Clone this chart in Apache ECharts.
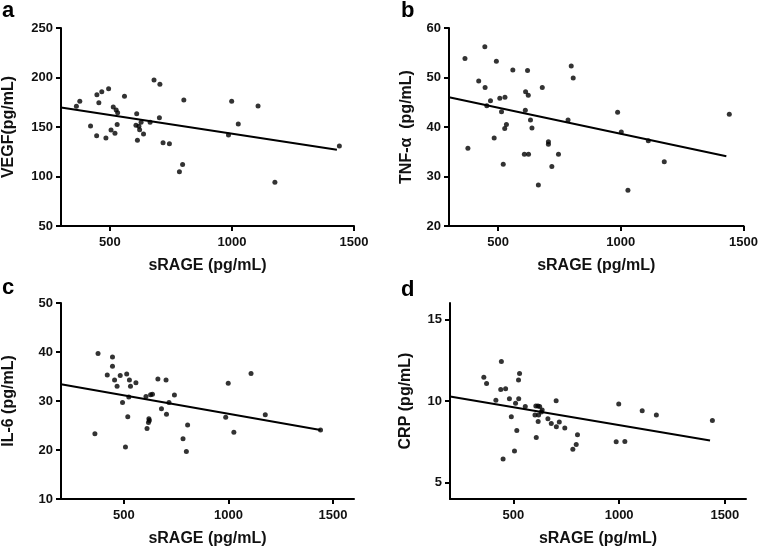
<!DOCTYPE html>
<html><head><meta charset="utf-8">
<script src="https://cdn.jsdelivr.net/npm/echarts@6/dist/echarts.min.js"></script>
<style>html,body{margin:0;padding:0;background:#fff}#c{width:761px;height:548px}</style>
</head><body><div id="c"></div>
<script>
// ---- data ----
var panelLetters = ['a', 'b', 'c', 'd'];
var xName = 'sRAGE (pg/mL)';
var yNames = ['VEGF(pg/mL)', 'TNF-\u03b1  (pg/mL)', 'IL-6 (pg/mL)', 'CRP (pg/mL)'];
var xTicksAll = [500, 1000, 1500];

// panel a: VEGF
var aX = [363,377,421,446,447,455,467,484,495,505,514,521,526,530,532,560,610,607,613,619,622,628,638,665,681,703,705,718,744,785,798,803,986,999,1026,1107,1176,1440];
var aY = [170.9,175.9,151,141.2,182.7,174.6,185.7,138.9,188.7,147,170.2,143.6,167.2,152.4,164.5,181,163.5,151.7,136.5,150.7,147.3,154.7,142.9,154.7,197.5,159.4,193.1,134.2,133.2,104.9,112,177.3,141.9,175.9,153,171.2,94.1,130.8];
var aFitX = [300, 1430];
var aFitY = [169.6, 127.0];

// panel b: TNF-alpha
var bX = [365,377,421,446,447,454,469,484,493,507,514,521,528,527,534,560,607,611,612,620,623,624,632,638,664,680,705,705,719,746,785,798,806,987,1002,1029,1112,1177,1442];
var bY = [53.85,35.7,49.3,56.2,48,44.3,45.3,37.8,53.3,45.8,43.1,32.5,46,39.7,40.5,51.5,34.5,43.4,47.1,51.4,46.4,34.5,41.4,39.8,28.3,48,37,36.5,32,34.5,41.4,52.3,49.9,43,39,27.2,37.2,33,42.6];
var bFitX = [300, 1430];
var bFitY = [46.0, 34.1];

// panel c: IL-6
var cX = [362,377,421,446,446,456,468,483,494,508,514,519,524,527,532,558,606,611,618,620,622,628,637,663,680,702,704,716,742,783,799,805,987,999,1026,1108,1176,1440];
var cY = [23.3,39.7,35.3,39.0,37.1,34.3,33.0,35.2,29.7,20.6,35.5,26.8,30.8,34.3,33.0,33.7,30.9,24.4,25.6,26.4,26.0,31.3,31.4,34.5,28.4,34.3,27.3,29.7,31.2,22.3,19.7,25.1,26.7,33.6,23.6,35.6,27.2,24.1];
var cFitX = [200, 1440];
var cFitY = [33.4, 24.1];

// panel d: CRP
var dX = [360,373,417,440,443,451,463,481,490,505,510,516,524,529,525,556,602,606,608,616,619,617,624,632,636,663,679,702,703,717,743,781,797,803,986,998,1027,1109,1176,1441];
var dY = [11.45,11.07,10.04,10.7,12.42,6.45,10.75,10.14,9.03,6.94,9.86,8.2,11.29,11.69,10.14,9.66,9.15,9.7,7.76,9.7,9.15,8.75,9.66,9.33,9.45,8.91,8.63,10.02,8.43,8.71,8.35,7.04,7.34,7.94,7.5,9.82,7.52,9.4,9.15,8.81];
var dFitX = [200, 1430];
var dFitY = [10.27, 7.58];

var yRanges = [[50, 250, 50], [20, 60, 10], [10, 50, 10], [4, 16, null]];
var yTicksD = [5, 10, 15];
var xRanges = [[300, 1500], [300, 1500], [200, 1600], [200, 1600]];

// ---- layout ----
var grids = [
  {left: 58, top: 28, width: 296, height: 198},
  {left: 449, top: 28, width: 296, height: 198},
  {left: 58, top: 303, width: 296, height: 196},
  {left: 450, top: 303, width: 296, height: 196}
];
var yGaps = [44, 34, 44, 36];
var titlePos = [[2, 0], [401, 0], [2, 277], [401, 279]];

var FONT = 'Liberation Sans, Arial, sans-serif';
var pts = [[aX, aY], [bX, bY], [cX, cY], [dX, dY]];
var fits = [[aFitX, aFitY], [bFitX, bFitY], [cFitX, cFitY], [dFitX, dFitY]];

function zip(xs, ys) { return xs.map(function (x, i) { return [x, ys[i]]; }); }
function plain(v) { return String(v); }

var option = {
  animation: false,
  backgroundColor: '#fff',
  title: panelLetters.map(function (t, i) {
    return {text: t, left: titlePos[i][0], top: titlePos[i][1], padding: 0,
      textStyle: {fontFamily: FONT, fontWeight: 'bold', fontSize: 22, color: '#000'}};
  }),
  grid: grids,
  xAxis: grids.map(function (g, i) {
    return {
      type: 'value', gridIndex: i, min: xRanges[i][0], max: xRanges[i][1],
      name: xName, nameLocation: 'middle', nameGap: 32,
      nameTextStyle: {fontFamily: FONT, fontWeight: 'bold', fontSize: 16, color: '#111'},
      axisLine: {show: true, onZero: false, lineStyle: {color: '#000', width: 2}},
      axisTick: {show: true, length: 5, lineStyle: {color: '#000', width: 2}, customValues: xTicksAll},
      axisLabel: {fontFamily: FONT, fontWeight: 'bold', fontSize: 13, color: '#111', margin: 10,
        customValues: xTicksAll, formatter: plain},
      splitLine: {show: false}
    };
  }),
  yAxis: grids.map(function (g, i) {
    var r = yRanges[i];
    var ax = {
      type: 'value', gridIndex: i, min: r[0], max: r[1],
      name: yNames[i], nameLocation: 'middle', nameGap: yGaps[i], nameRotate: 90,
      nameTextStyle: {fontFamily: FONT, fontWeight: 'bold', fontSize: 16, color: '#111'},
      axisLine: {show: true, onZero: false, lineStyle: {color: '#000', width: 2}},
      axisTick: {show: true, length: 5, lineStyle: {color: '#000', width: 2}},
      axisLabel: {fontFamily: FONT, fontWeight: 'bold', fontSize: 13, color: '#111', margin: 8, formatter: plain},
      splitLine: {show: false}
    };
    if (r[2]) { ax.interval = r[2]; }
    else { ax.axisLabel.customValues = yTicksD; ax.axisTick.customValues = yTicksD; }
    return ax;
  }),
  series: []
};

pts.forEach(function (p, i) {
  option.series.push({
    type: 'scatter', xAxisIndex: i, yAxisIndex: i, data: zip(p[0], p[1]),
    symbol: 'circle', symbolSize: 5, itemStyle: {color: '#000'}, silent: true
  });
  option.series.push({
    type: 'line', xAxisIndex: i, yAxisIndex: i, data: zip(fits[i][0], fits[i][1]),
    symbol: 'none', lineStyle: {color: '#000', width: 2}, silent: true
  });
});

echarts.init(document.getElementById('c'), null, {renderer: 'canvas'}).setOption(option);
</script>
</body></html>
